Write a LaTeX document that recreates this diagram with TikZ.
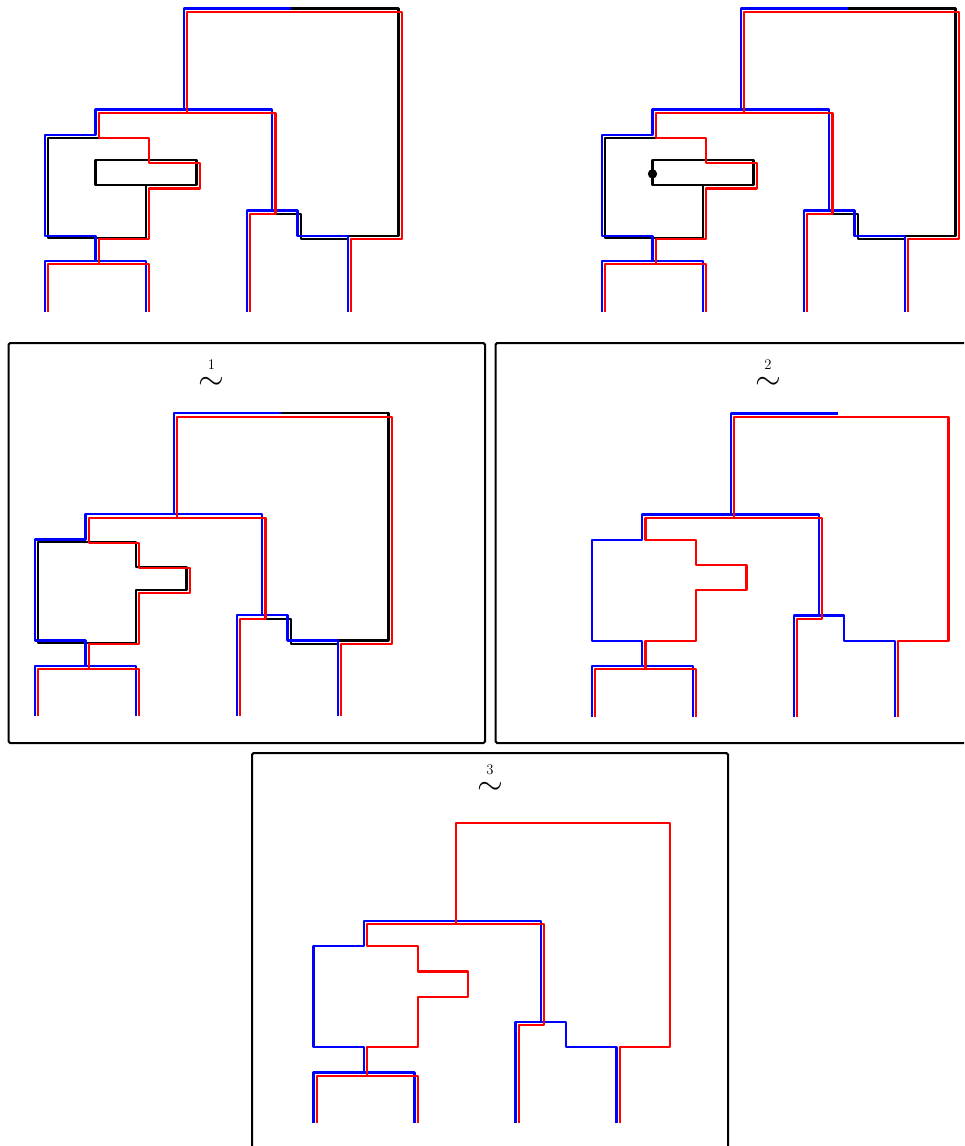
\documentclass[tikz,border=0pt]{standalone}
\begin{document}
\begin{tikzpicture}[x=0.75pt,y=-0.75pt,
  strand/.style={line width=1.6pt,line join=round},
  bl/.style={strand,blue},
  rd/.style={strand,red},
  bk/.style={strand,black},
  panel/.style={line width=1.5pt,rounded corners=1.2pt},
  steptag/.style={inner sep=0pt,anchor=base,font=\fontsize{24.88}{26}\selectfont},
  knot/.style={circle,fill,inner sep=0pt,minimum size=7pt}]
% offset of the red push-off (in lattice units)
\def\ro{0.13}
% a wave with the step number set above it
\newcommand\stepsign[1]{\vbox{\offinterlineskip\halign{\hfil##\hfil\cr
  \fontsize{11}{11}\selectfont #1\cr\noalign{\kern 14.6pt}\smash{$\sim$}\cr}}}
% blue strand: the top arc
\newcommand\bluetop{\draw[bl] (9.75,0) -- (5.5,0) -- (5.5,4);}
% blue strand: the tree below
\newcommand\bluetree{%
  \draw[bl] (2,10) -- (2,9) -- (0,9) -- (0,5) -- (2,5) -- (2,4) -- (9,4) -- (9,8) -- (10,8) -- (10,9) -- (12,9) -- (12,12);
  \draw[bl] (9,8) -- (8,8) -- (8,12);
  \draw[bl] (0,12) -- (0,10) -- (4,10) -- (4,12);}
% red strand; #1 is the vertical shift of the box and the lower right edge
\newcommand\redtree[1]{%
  \draw[rd] ({12+\ro},12) -- ({12+\ro},{9+#1}) -- ({14+\ro},{9+#1}) -- ({14+\ro},\ro) -- ({5.5+\ro},\ro) -- ({5.5+\ro},{4+\ro});
  \draw[rd] ({2+\ro},{10+\ro}) -- ({2+\ro},{9+#1}) -- ({4+\ro},{9+#1}) -- ({4+\ro},{7+#1}) -- ({6+\ro},{7+#1}) -- ({6+\ro},{6+#1}) -- ({4+\ro},{6+#1}) -- ({4+\ro},{5+#1}) -- ({2+\ro},{5+#1}) -- ({2+\ro},{4+\ro}) -- ({9+\ro},{4+\ro}) -- ({9+\ro},{8+\ro}) -- ({8+\ro},{8+\ro}) -- ({8+\ro},12);
  \draw[rd] (\ro,12) -- (\ro,{10+\ro}) -- ({4+\ro},{10+\ro}) -- ({4+\ro},12);}
% black curve: right-hand square
\newcommand\blackright{%
  \draw[bk] (9.75,0) -- (14,0) -- (14,9) -- (12,9);
  \draw[bk] ({9+\ro},{8+\ro}) -- ({10+\ro},{8+\ro}) -- ({10+\ro},{9+\ro}) -- (12,{9+\ro});}
% black curve: left box with the inner loop
\newcommand\blackloop{%
  \draw[bk] ({2+\ro},{5+\ro}) -- (\ro,{5+\ro}) -- (\ro,{9+0.1}) -- (4,{9+0.1}) -- (4,7);
  \draw[bk] (2,6) rectangle (6,7);}
% black curve: left box with the loop contracted
\newcommand\blacktab{%
  \draw[bk] (\ro,{5+0.08}) -- (4,{5+0.08}) -- (4,{6+0.08}) -- (6,{6+0.08}) -- (6,7) -- (4,7) -- (4,{9+0.1}) -- (\ro,{9+0.1}) -- cycle;}

\useasboundingbox (0,0) rectangle (964,1146);
\clip (0,0) rectangle (964,1146);

% top left
\begin{scope}[shift={(45,8.5)},scale=25.25]
  \blackright \blackloop
  \bluetop \bluetree
  \redtree{\ro}
\end{scope}

% top right, with the marked point
\begin{scope}[shift={(602,8.5)},scale=25.25]
  \blackright \blackloop
  \bluetop \bluetree
  \redtree{\ro}
  \node[knot] (mark) at (2,6.55) {};
\end{scope}

% frames
\draw[panel] (8.5,343) rectangle (485,743);
\draw[panel] (495.5,343) rectangle (972,743);
\draw[panel] (252,753) rectangle (728,1153);

% step 1
\node[steptag] (s1) at (211.5,389) {\stepsign{1}};
\begin{scope}[shift={(35,413.3)},scale=25.25]
  \blackright \blacktab
  \bluetop \bluetree
  \redtree{\ro}
\end{scope}

% step 2
\node[steptag] (s2) at (768,389) {\stepsign{2}};
\begin{scope}[shift={(591.7,413.5)},scale=25.25]
  \bluetop \bluetree
  \redtree{0}
\end{scope}

% step 3
\node[steptag] (s3) at (490,794.5) {\stepsign{3}};
\begin{scope}[shift={(313.5,820)},scale=25.25]
  \bluetree
  \redtree{0}
\end{scope}
\end{tikzpicture}
\end{document}
